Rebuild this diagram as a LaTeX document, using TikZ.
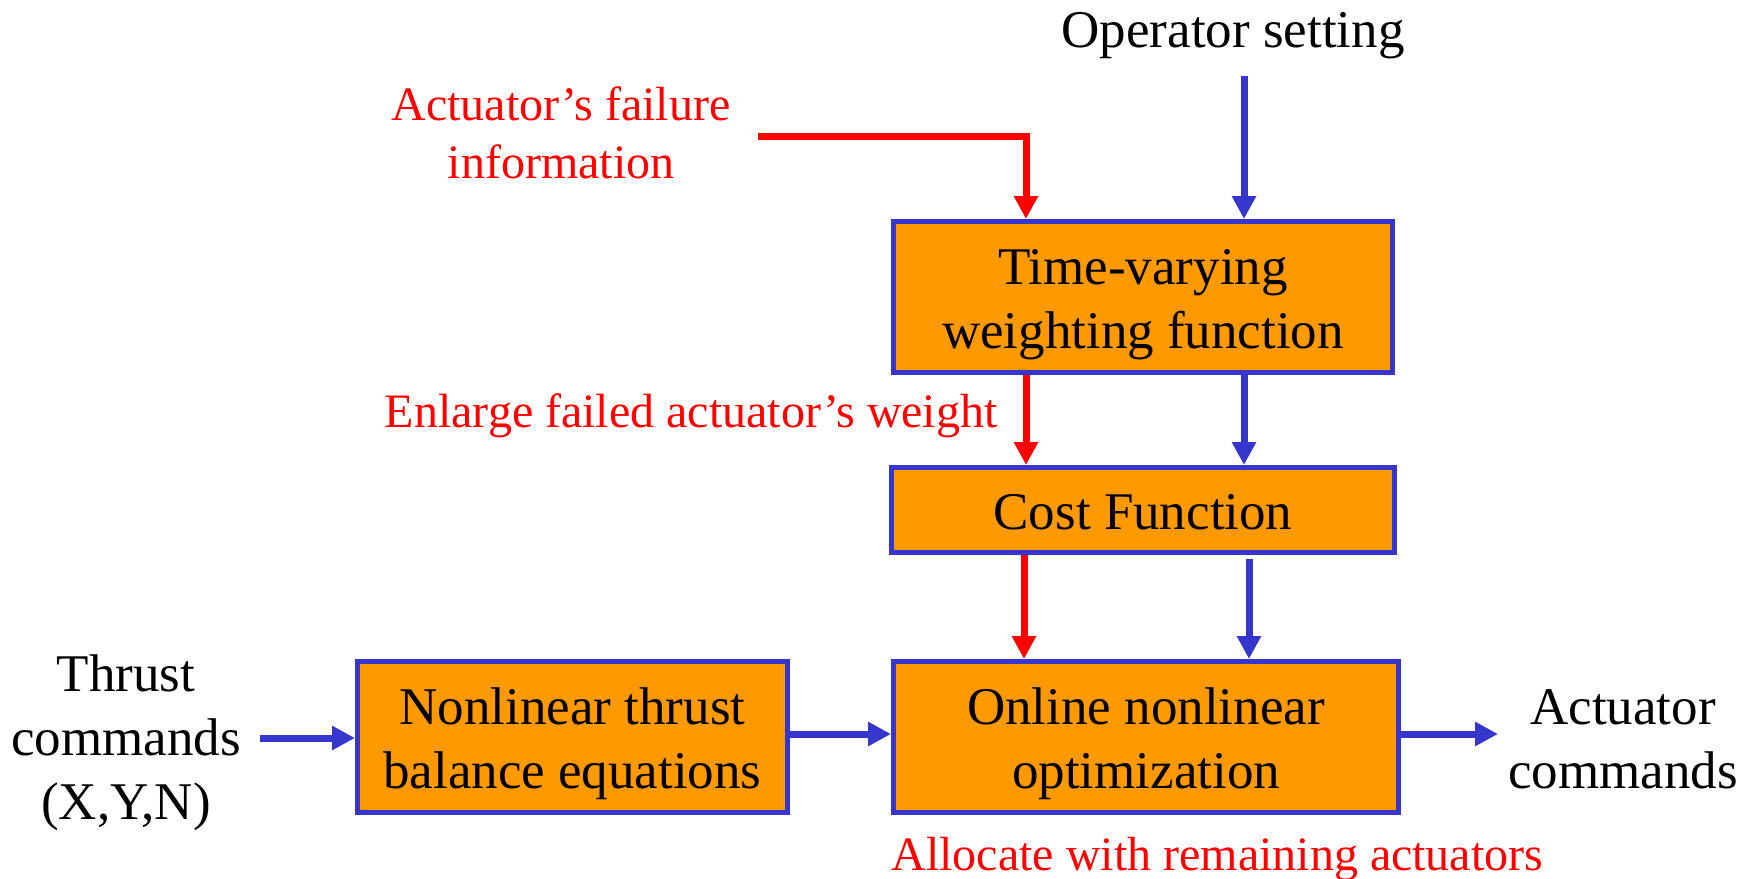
\documentclass[tikz,border=0pt]{standalone}
\usepackage{fontspec}
\setmainfont{Liberation Serif}
\usetikzlibrary{arrows.meta}
\definecolor{boxfill}{RGB}{255,153,0}
\definecolor{edgeblue}{RGB}{54,54,204}
\definecolor{alertred}{RGB}{255,0,0}
% invisible rule that sets the height of a block's first line
\newcommand\topgap[1]{\rule{0pt}{#1}}
\begin{document}
\begin{tikzpicture}[x=0.5pt,y=-0.5pt,
  block/.style={draw=edgeblue, line width=2.5pt, fill=boxfill, inner sep=0pt,
                align=center, font=\fontsize{26.5}{32}\selectfont},
  plain/.style={align=center, inner sep=0pt, font=\fontsize{26.5}{32}\selectfont},
  note/.style={text=alertred, inner sep=0pt, align=center,
               font=\fontsize{24}{29}\selectfont},
  flowb/.style={draw=edgeblue, line width=3.5pt,
                -{Triangle[width=11.5pt,length=11.5pt]}},
  flowr/.style={flowb, draw=alertred}]
\useasboundingbox (0,0) rectangle (1753,879);

% processing blocks
\node[block, minimum width=249.5pt, minimum height=75.5pt] (tv) at (1143,297)
  {\topgap{25pt}Time-varying\\weighting function};
\node[block, minimum width=251.5pt, minimum height=42.5pt] (cost) at (1143,510)
  {\topgap{20pt}Cost Function};
\node[block, minimum width=252.5pt, minimum height=75.5pt] (opt) at (1146,737)
  {\topgap{25pt}Online nonlinear\\optimization};
\node[block, minimum width=215pt, minimum height=75.5pt] (nl) at (572.5,737)
  {\topgap{25pt}Nonlinear thrust\\balance equations};

% inputs and outputs
\node[plain, anchor=base] (op) at (1233,47) {Operator setting};
\node[plain] (thr) at (126,742.5) {Thrust\\commands\\(X,Y,N)};
\node[plain] (act) at (1623,739) {Actuator\\commands};

% failure annotations
\node[note] (fail) at (561,133) {Actuator’s failure\\information};
\node[note, anchor=base east] (enl) at (998,427) {Enlarge failed actuator’s weight};
\node[note, anchor=base west] (alloc) at (891,870) {Allocate with remaining actuators};

% connector guide points
\coordinate (redx) at (1026,0);
\coordinate (bluex) at (1244,0);
\coordinate (redx2) at (1024,0);
\coordinate (bluex2) at (1249,0);
\coordinate (failout) at (758,136);
\coordinate (opin) at (1244,76);
\coordinate (thrin) at (260,738);
\coordinate (actout) at (1498,734);

% red failure path
\draw[flowr] (failout) -| (tv.north -| redx);
\draw[flowr] (tv.south -| redx) -- (cost.north -| redx);
\draw[flowr] (cost.south -| redx2) -- (opt.north -| redx2);

% blue signal path
\draw[flowb] (opin) -- (tv.north -| opin);
\draw[flowb] (tv.south -| bluex) -- (cost.north -| bluex);
\draw[flowb, shorten <=2pt] (cost.south -| bluex2) -- (opt.north -| bluex2);
\draw[flowb] (thrin) -- (thrin -| nl.west);
\draw[flowb] ([yshift=1.5pt]nl.east) -- ([yshift=1.5pt]opt.west);
\draw[flowb] ([yshift=1.5pt]opt.east) -- (actout);
\end{tikzpicture}
\end{document}
